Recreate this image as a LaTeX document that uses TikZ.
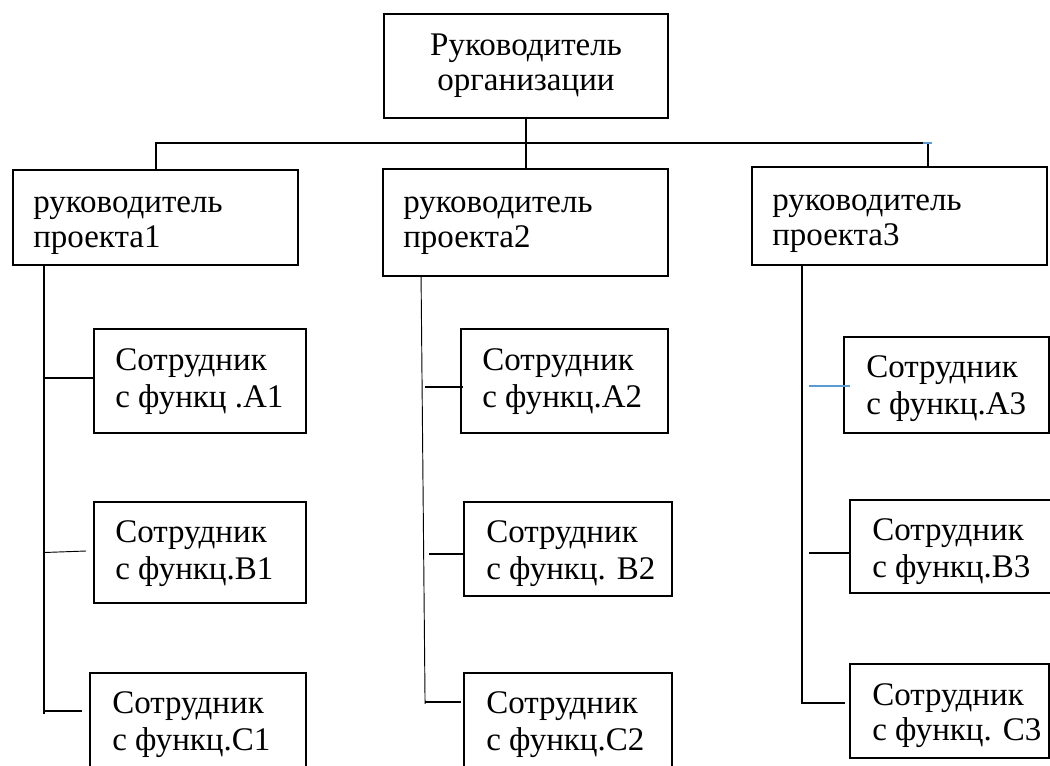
\documentclass[tikz,border=0pt]{standalone}
\usepackage{fontspec}
\setmainfont{Liberation Serif}
\usetikzlibrary{fit,calc}
\definecolor{tickblue}{RGB}{91,155,213}
\begin{document}
\begin{tikzpicture}[x=0.75pt,y=-0.75pt,
  box/.style={draw,line width=1.4pt,inner sep=0pt},
  conn/.style={line width=1.1pt},
  thinconn/.style={line width=0.7pt},
  headtxt/.style={inner sep=0pt,font=\fontsize{24.75}{26.25}\selectfont},
  emptxt/.style={inner sep=0pt,font=\fontsize{24.75}{27.75}\selectfont}]
\path[use as bounding box] (0,0) rectangle (1050,765);
\clip (0,0) rectangle (1050,765);

% boxes
\node[box, fit={(384,14)(668,118)}] (org) {};
\node[box, fit={(13,170)(298,265)}] (p1) {};
\node[box, fit={(383,169)(668,276)}] (p2) {};
\node[box, fit={(752,167)(1047,265)}] (p3) {};
\node[box, fit={(94,329)(306,433)}] (a1) {};
\node[box, fit={(94,502)(306,603)}] (b1) {};
\node[box, fit={(90,673)(306,790)}] (c1) {};
\node[box, fit={(461,329)(668,433)}] (a2) {};
\node[box, fit={(464,502)(672,596)}] (b2) {};
\node[box, fit={(464,673)(672,790)}] (c2) {};
\node[box, fit={(844,337)(1049,433)}] (a3) {};
\node[box, fit={(850,500)(1060,593)}] (b3) {};
\node[box, fit={(850,664)(1049,758)}] (c3) {};

% labels
\node[headtxt, anchor=base] (org-t) at (526,55)
  {\begin{tabular}[t]{@{}c@{}}Руководитель\\организации\end{tabular}};
\node[headtxt, anchor=base west] (p1-t) at (33,212)
  {\begin{tabular}[t]{@{}l@{}}руководитель\\проекта1\end{tabular}};
\node[headtxt, anchor=base west] (p2-t) at (403,212)
  {\begin{tabular}[t]{@{}l@{}}руководитель\\проекта2\end{tabular}};
\node[headtxt, anchor=base west] (p3-t) at (772,210)
  {\begin{tabular}[t]{@{}l@{}}руководитель\\проекта3\end{tabular}};
\node[emptxt, anchor=base west] (a1-t) at (115,370)
  {\begin{tabular}[t]{@{}l@{}}Сотрудник\\с функц .А1\end{tabular}};
\node[emptxt, anchor=base west] (b1-t) at (115,542)
  {\begin{tabular}[t]{@{}l@{}}Сотрудник\\с функц.В1\end{tabular}};
\node[emptxt, anchor=base west] (c1-t) at (112,713)
  {\begin{tabular}[t]{@{}l@{}}Сотрудник\\с функц.С1\end{tabular}};
\node[emptxt, anchor=base west] (a2-t) at (482,370)
  {\begin{tabular}[t]{@{}l@{}}Сотрудник\\с функц.А2\end{tabular}};
\node[emptxt, anchor=base west] (b2-t) at (486,542)
  {\begin{tabular}[t]{@{}l@{}}Сотрудник\\с функц. В2\end{tabular}};
\node[emptxt, anchor=base west] (c2-t) at (486,713)
  {\begin{tabular}[t]{@{}l@{}}Сотрудник\\с функц.С2\end{tabular}};
\node[emptxt, anchor=base west] (a3-t) at (866,377)
  {\begin{tabular}[t]{@{}l@{}}Сотрудник\\с функц.А3\end{tabular}};
\node[emptxt, anchor=base west] (b3-t) at (872,540)
  {\begin{tabular}[t]{@{}l@{}}Сотрудник\\с функц.В3\end{tabular}};
\node[headtxt, anchor=base west] (c3-t) at (872,705)
  {\begin{tabular}[t]{@{}l@{}}Сотрудник\\с функц. С3\end{tabular}};

% top level: organisation head to project heads
\coordinate (busL) at (156,143);
\coordinate (busR) at (928,143);
\draw[line width=1.2pt] (org.south) -- (org.south |- p2.north);
\draw[line width=1.2pt] (busL |- p1.north) -- (busL) -- (busR) -- (busR |- p3.north);
\draw[tickblue, line width=1.4pt] ($(busR)+(-5,0)$) -- ($(busR)+(4,0)$);

% project 1 branch
\draw[conn] ($(p1.south west)+(32,0)$) -- ++(0,448);
\draw[conn] ($(a1.west)+(-49,-3)$) -- ($(a1.west)+(0,-3)$);
\draw[thinconn] ($(b1.west)+(-49,0)$) -- ($(b1.west)+(-7,-1.5)$);
\draw[conn] ($(c1.north west)+(-45,39)$) -- ($(c1.north west)+(-7,39)$);

% project 2 branch
\draw[thinconn] ($(p2.south west)+(39,0)$) -- ($(p2.south west)+(43,427)$);
\draw[conn] ($(a2.west)+(-35,6)$) -- ($(a2.west)+(3,6)$);
\draw[conn] ($(b2.west)+(-34,5)$) -- ($(b2.west)+(0,5)$);
\draw[conn] ($(c2.north west)+(-38,30)$) -- ($(c2.north west)+(-2,30)$);

% project 3 branch
\draw[conn] ($(p3.south west)+(51,0)$) -- ++(0,438);
\draw[tickblue, conn] ($(a3.west)+(-34,1)$) -- ($(a3.west)+(7,1)$);
\draw[conn] ($(b3.west)+(-40,6.5)$) -- ($(b3.west)+(0,6.5)$);
\draw[conn] ($(c3.west)+(-48,-8)$) -- ($(c3.west)+(-4,-8)$);
\end{tikzpicture}
\end{document}
